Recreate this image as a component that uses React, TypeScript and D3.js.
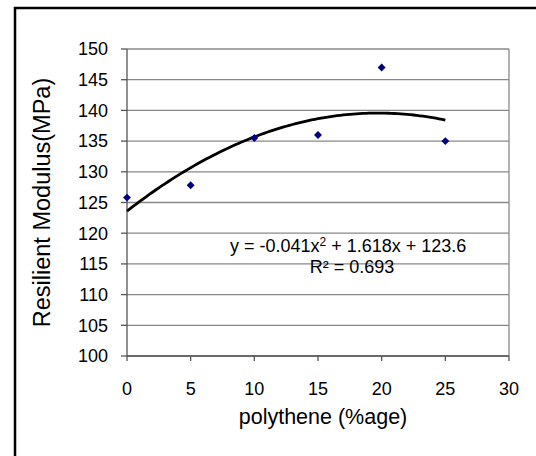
import React, { useEffect } from 'react';
import * as d3 from 'd3';

// polythene content (%) and measured resilient modulus (MPa)
const polythene = [0, 5, 10, 15, 20, 25];
const modulus = [125.8, 127.8, 135.5, 136, 147, 135];
// 2nd order polynomial trendline, as printed on the chart
const trendCoef = [-0.041, 1.618, 123.6];
const trendLabel = 'y = -0.041x';
const trendLabelRest = ' + 1.618x + 123.6';
const r2Label = 'R² = 0.693';
const xTicks = [0, 5, 10, 15, 20, 25, 30];
const yTicks = [100, 105, 110, 115, 120, 125, 130, 135, 140, 145, 150];
const xTitle = 'polythene (%age)';
const yTitle = 'Resilient Modulus(MPa)';

const width = 536;
const height = 456;
const margin = { top: 49, right: 27, bottom: 100, left: 127 };
const font = 'Arial, "Liberation Sans", sans-serif';

export default function App() {
  useEffect(() => {
    document.body.style.margin = '0';
  }, []);

  const x = d3.scaleLinear().domain([0, 30]).range([margin.left, width - margin.right]);
  const y = d3.scaleLinear().domain([100, 150]).range([height - margin.bottom, margin.top]);

  const trendX = d3.range(0, 25.01, 0.25);
  const trend = d3.line<number>()
    .x(d => x(d))
    .y(d => y(trendCoef[0] * d * d + trendCoef[1] * d + trendCoef[2]));

  const diamond = d3.symbol().type(d3.symbolDiamond2).size(40)();

  const x0 = x(0), x1 = x(30), y0 = y(100), y1 = y(150);

  return (
    <svg width={width} height={height} style={{ display: 'block', fontFamily: font }}>
      <rect x={0} y={0} width={width} height={height} fill="#fff" />
      {/* outer chart border, runs off the right/bottom edge */}
      <rect x={15} y={8} width={width + 20} height={height + 20} fill="none" stroke="#000" strokeWidth={2.5} />

      {/* gridlines */}
      {yTicks.map(t => (
        <line key={'g' + t} x1={x0} x2={x1} y1={y(t)} y2={y(t)} stroke="#888" strokeWidth={1.3} />
      ))}
      <line x1={x1} x2={x1} y1={y1} y2={y0} stroke="#888" strokeWidth={1.3} />

      {/* axes */}
      <line x1={x0} x2={x0} y1={y1} y2={y0} stroke="#555" strokeWidth={1.3} />
      <line x1={x0} x2={x1} y1={y0} y2={y0} stroke="#555" strokeWidth={1.3} />
      {yTicks.map(t => (
        <g key={'y' + t}>
          <line x1={x0 - 6} x2={x0} y1={y(t)} y2={y(t)} stroke="#555" strokeWidth={1.3} />
          <text x={108} y={y(t)} dy="0.35em" textAnchor="end" fontSize={18} fill="#000">{t}</text>
        </g>
      ))}
      {xTicks.map(t => (
        <g key={'x' + t}>
          <line x1={x(t)} x2={x(t)} y1={y0} y2={y0 + 5} stroke="#555" strokeWidth={1.3} />
          <text x={x(t)} y={y0 + 39} textAnchor="middle" fontSize={18} fill="#000">{t}</text>
        </g>
      ))}

      {/* axis titles */}
      <text x={(x0 + x1) / 2 + 5} y={424} textAnchor="middle" fontSize={21.5} fill="#000">{xTitle}</text>
      <text transform={`translate(50,${(y0 + y1) / 2}) rotate(-90)`} textAnchor="middle" fontSize={23.5} fill="#000">{yTitle}</text>

      {/* trendline */}
      <path d={trend(trendX) || ''} fill="none" stroke="#000" strokeWidth={2.8} />

      {/* data points */}
      {polythene.map((p, i) => (
        <path key={'p' + i} d={diamond || ''} transform={`translate(${x(p)},${y(modulus[i])})`} fill="#000080" />
      ))}

      {/* equation */}
      <text x={230} y={252} fontSize={18} fill="#000">
        {trendLabel}
        <tspan dy={-6} fontSize={12}>2</tspan>
        <tspan dy={6}>{trendLabelRest}</tspan>
      </text>
      <text x={352} y={273} textAnchor="middle" fontSize={18} fill="#000">{r2Label}</text>
    </svg>
  );
}
